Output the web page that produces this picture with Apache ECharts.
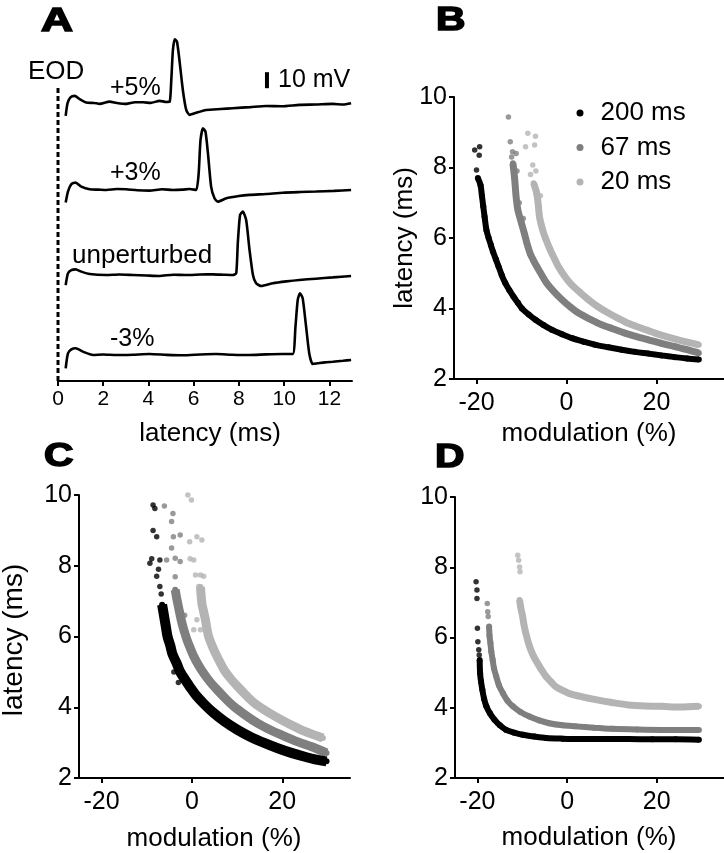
<!DOCTYPE html>
<html><head><meta charset="utf-8">
<script src="https://cdn.jsdelivr.net/npm/echarts@6/dist/echarts.min.js"></script>
<style>html,body{margin:0;padding:0;background:#fff}#c{width:724px;height:853px}</style>
</head><body><div id="c"></div><script>
// ---------- Panel A: recorded traces (time ms, voltage mV relative to baseline) ----------
const aTicks = [0, 2, 4, 6, 8, 10, 12];
const traceLabels = ['+5%', '+3%', 'unperturbed', '-3%'];
const trP5 = [[0.34,-7.9],[0.42,0],[0.55,3.7],[0.74,4.6],[0.96,2.5],[1.25,0.4],[1.6,0.2],[1.84,-0.4],[2.28,1.0],[2.6,0.2],[3.02,-0.4],[3.4,0.6],[3.76,0.6],[4.1,0.2],[4.49,1.5],[4.79,0.8],[4.94,1.0],[5.01,14.6],[5.08,33],[5.16,40],[5.26,38.5],[5.37,27],[5.52,8.3],[5.67,-4.2],[5.82,-7.3],[6.04,-6.3],[6.55,-4.2],[7.2,-3.6],[7.73,-3.1],[8.5,-2.4],[9.2,-1.7],[9.9,-1.9],[10.67,-1.0],[11.4,-0.8],[12.15,-0.4],[12.6,-0.8],[12.96,0]];
const trP3 = [[0.34,-7.9],[0.44,-1],[0.59,3.7],[0.78,4.6],[1.03,2.1],[1.4,0.4],[1.8,0.2],[2.14,0],[2.6,0.6],[3.02,0.4],[3.5,-0.2],[4.05,-0.4],[4.6,0.4],[5.08,0],[5.5,0.2],[5.82,0.6],[6.11,0],[6.22,10.4],[6.3,31],[6.41,38.5],[6.52,36.5],[6.63,23],[6.77,2.1],[6.92,-5.2],[7.07,-7.3],[7.44,-5.2],[8.0,-3.8],[8.47,-3.1],[9.2,-2.5],[9.94,-1.7],[10.7,-1.3],[11.41,-1.0],[12.2,-0.6],[12.96,0]];
const trUnp = [[0.34,-6.3],[0.44,1.0],[0.59,3.1],[0.78,3.5],[1.03,2.1],[1.4,0.6],[2.14,0],[2.7,0.3],[3.31,0],[3.9,-0.3],[4.49,-0.6],[5.1,0.2],[5.67,0],[6.3,0.3],[6.85,0.4],[7.3,0.2],[7.73,0],[7.88,1],[7.95,19.8],[8.05,37.5],[8.17,39.6],[8.32,34.4],[8.47,15.6],[8.62,0],[8.76,-5.2],[8.99,-6.9],[9.5,-5.2],[10.1,-4.0],[10.67,-3.1],[11.4,-2.3],[12.15,-1.5],[12.96,-0.6]];
const trM3 = [[0.34,-8.3],[0.44,1.0],[0.59,3.5],[0.78,4.2],[1.1,2.1],[1.55,0],[2.0,0.3],[2.58,0],[3.3,0.2],[4.05,0.6],[4.8,0.1],[5.52,-0.2],[6.3,0.3],[6.99,0.6],[7.7,0.2],[8.47,0],[9.2,0.4],[9.94,0.6],[10.38,0.6],[10.5,17.7],[10.6,34.4],[10.7,38.5],[10.82,35.4],[10.97,17.7],[11.11,1],[11.26,-5.6],[11.48,-5.2],[11.8,-4.6],[12.15,-4.2],[12.6,-3.6],[12.96,-3.1]];
const traceBaselines = [173.6, 119.4, 66.25, 16.25]; // vertical stacking of traces (mV)
const eodMarker = [[0, 0], [0, 185]];
const scaleBar = [[9.24, 183], [9.24, 193]]; // 10 mV

// ---------- Panels B-D: latency (ms) vs modulation (%) ----------
const modTicks = [-20, 0, 20];
const latTicks = [2, 4, 6, 8, 10];
const seriesNames = ['200 ms', '67 ms', '20 ms'];

// Panel B
const b200Band = [[-19.7,7.7],[-19.1,7.5],[-18.8,7.2],[-18.5,6.9],[-18.2,6.6],[-17.8,6.23],[-17.3,6.0],[-16.8,5.8],[-16.3,5.6],[-15.7,5.4],[-15.1,5.19],[-14.4,4.95],[-13.6,4.72],[-12.7,4.52],[-11.8,4.34],[-10.8,4.16],[-9.9,4.0],[-8.4,3.83],[-6.9,3.68],[-5.1,3.53],[-3.3,3.4],[-1.0,3.27],[1.2,3.16],[3.8,3.06],[6.4,2.97],[9.3,2.9],[12.3,2.83],[15.2,2.77],[18.2,2.72],[21.1,2.67],[24.1,2.62],[26.8,2.58],[29.4,2.55]];
const b200Out = [[-20.4,8.5],[-19.3,8.59],[-19.4,8.35],[-20.0,7.93]];
const b67Band = [[-11.9,8.12],[-11.5,7.65],[-11.2,7.17],[-10.8,6.79],[-10.0,6.42],[-9.3,6.1],[-8.8,5.85],[-8.1,5.57],[-7.4,5.38],[-6.6,5.19],[-5.5,4.95],[-4.4,4.72],[-2.8,4.48],[-1.0,4.25],[0.8,4.05],[2.7,3.87],[5.2,3.7],[7.8,3.54],[10.4,3.42],[13.0,3.3],[15.6,3.2],[18.2,3.11],[21.1,3.01],[24.1,2.92],[26.8,2.83],[29.4,2.74]];
const b67Out = [[-12.9,9.43],[-12.5,8.73],[-12.0,8.45],[-11.2,8.4],[-12.2,8.3],[-11.0,7.9],[-10.5,7.0],[-9.6,6.55]];
const b20Band = [[-7.3,7.55],[-6.7,7.31],[-6.3,6.98],[-6.0,6.6],[-5.3,6.23],[-4.7,6.0],[-3.6,5.66],[-2.7,5.42],[-1.8,5.19],[-0.6,4.95],[0.8,4.72],[2.8,4.48],[4.9,4.25],[7.0,4.05],[9.3,3.87],[11.5,3.72],[13.7,3.58],[16.7,3.44],[19.7,3.3],[22.2,3.2],[24.8,3.11],[27.1,3.04],[29.4,2.97]];
const b20Out = [[-8.6,8.97],[-6.9,8.89],[-9.1,8.59],[-7.1,8.64],[-7.5,8.07],[-8.0,7.8],[-6.8,7.9],[-5.8,7.2]];

// Panel C
const c200Band = [[-6.6,6.9],[-6.2,6.6],[-5.8,6.3],[-5.4,6.0],[-4.8,5.75],[-4.3,5.5],[-3.4,5.25],[-2.6,5.0],[-1.5,4.78],[-0.3,4.55],[1.1,4.31],[2.8,4.08],[4.8,3.84],[7.2,3.6],[10.1,3.36],[13.0,3.16],[16.0,2.99],[19.0,2.84],[22.0,2.71],[25.0,2.6],[27.5,2.52],[29.8,2.47]];
const c200Out = [[-8.6,9.72],[-8.2,9.62],[-8.6,9.0],[-7.8,8.82],[-8.9,8.2],[-9.3,8.07],[-7.1,8.16],[-7.4,7.9],[-7.1,7.41],[-7.8,7.7],[-6.8,7.2],[-3.0,4.7],[-4.0,5.0]];
const c67Band = [[-3.7,7.32],[-3.4,7.1],[-3.0,6.85],[-2.6,6.6],[-2.2,6.38],[-1.7,6.15],[-1.1,5.91],[-0.4,5.68],[0.4,5.44],[1.4,5.2],[2.6,4.96],[4.0,4.72],[5.6,4.49],[7.4,4.25],[9.3,4.02],[11.8,3.78],[14.5,3.55],[17.5,3.35],[20.5,3.18],[23.5,3.02],[26.4,2.89],[29.8,2.71]];
const c67Out = [[-6.1,9.69],[-4.2,9.48],[-4.5,9.25],[-4.1,8.82],[-2.6,8.87],[-5.6,8.16],[-3.7,8.21],[-2.6,8.12],[-3.7,7.69],[-4.5,8.5],[-1.6,6.6]];
const c20Band = [[1.9,7.4],[2.2,6.94],[2.6,6.7],[3.0,6.47],[3.3,6.23],[3.7,6.0],[4.4,5.76],[5.2,5.53],[6.1,5.3],[7.1,5.06],[8.5,4.82],[10.1,4.59],[11.9,4.35],[13.8,4.12],[16.6,3.88],[19.7,3.65],[22.0,3.5],[24.2,3.36],[26.6,3.24],[29.0,3.13]];
const c20Out = [[-0.9,10.0],[-0.1,9.86],[1.1,8.82],[2.2,8.73],[-0.5,8.68],[0.4,8.16],[1.9,7.74],[0.8,7.74],[1.5,7.41],[1.1,6.47],[1.9,6.19],[0.4,6.19],[-0.4,8.2],[2.6,7.7]];

// Panel D
const d200Band = [[-19.5,5.36],[-19.4,4.98],[-19.2,4.75],[-18.9,4.51],[-18.5,4.25],[-18.0,4.04],[-17.2,3.84],[-16.2,3.66],[-15.0,3.5],[-13.6,3.37],[-11.8,3.29],[-9.9,3.23],[-7.3,3.18],[-4.7,3.14],[-1.0,3.12],[2.7,3.11],[8.2,3.11],[13.7,3.11],[19.0,3.1],[24.2,3.1],[29.4,3.09]];
const d200Out = [[-20.3,7.59],[-20.1,7.35],[-20.1,7.11],[-20.0,6.26],[-19.9,5.88],[-19.7,5.65],[-19.6,5.5]];
const d67Band = [[-17.4,6.31],[-17.3,6.05],[-17.1,5.84],[-16.9,5.6],[-16.6,5.36],[-16.3,5.12],[-15.8,4.89],[-15.2,4.64],[-14.3,4.41],[-13.3,4.2],[-12.1,4.04],[-10.4,3.88],[-8.4,3.75],[-6.2,3.64],[-4.0,3.56],[-1.0,3.5],[1.9,3.47],[6.0,3.43],[10.1,3.4],[15.6,3.38],[21.1,3.37],[25.2,3.37],[29.4,3.37]];
const d67Out = [[-17.8,6.97],[-17.7,6.73],[-17.6,6.6]];
const d20Band = [[-10.6,7.07],[-10.3,6.83],[-9.9,6.59],[-9.6,6.35],[-9.2,6.12],[-8.7,5.88],[-8.1,5.65],[-7.4,5.45],[-6.6,5.27],[-5.7,5.08],[-4.7,4.89],[-3.6,4.74],[-2.5,4.6],[-1.1,4.5],[0.4,4.41],[3.4,4.31],[6.4,4.23],[10.0,4.15],[13.7,4.08],[17.4,4.05],[21.1,4.04],[25.2,4.02],[29.4,4.04]];
const d20Out = [[-11.0,8.34],[-10.8,8.2],[-10.6,8.01],[-10.5,7.87]];

// ---------- build ----------
const FONT = '"Liberation Sans", Arial, Helvetica, sans-serif';
const COLORS = ['#000000', '#7f7f7f', '#b4b4b4'];
const chart = echarts.init(document.getElementById('c'), null, {renderer: 'canvas'});

const grids = [
  {left: 58, top: 29, width: 294, height: 352},
  {left: 454, top: 97, width: 270, height: 282},
  {left: 79, top: 495, width: 271, height: 283},
  {left: 455, top: 497, width: 270, height: 281}
];

const axisLineStyle = {show: true, onZero: false, lineStyle: {color: '#000', width: 2}};
const tickStyle = {show: true, length: 5, lineStyle: {color: '#000', width: 2}};
const xAxes = [
  {gridIndex: 0, type: 'value', min: 0, max: 13,
   axisLine: axisLineStyle, axisTick: Object.assign({customValues: aTicks}, tickStyle),
   axisLabel: {color: '#000', fontSize: 21, fontFamily: FONT, margin: 8, customValues: aTicks},
   splitLine: {show: false}}
];
const yAxes = [
  {gridIndex: 0, type: 'value', min: 0, max: 220, show: false, splitLine: {show: false}}
];
for (let g = 1; g <= 3; g++) {
  xAxes.push({gridIndex: g, type: 'value', min: -25, max: 35,
    axisLine: axisLineStyle,
    axisTick: Object.assign({customValues: modTicks}, tickStyle),
    axisLabel: {color: '#000', fontSize: 25, fontFamily: FONT, margin: 12, customValues: modTicks},
    splitLine: {show: false}});
  yAxes.push({gridIndex: g, type: 'value', min: 2, max: 10, interval: 2,
    axisLine: axisLineStyle,
    axisTick: Object.assign({customValues: latTicks}, tickStyle),
    axisLabel: {color: '#000', fontSize: 25, fontFamily: FONT, margin: 7, customValues: latTicks},
    splitLine: {show: false}});
}

const series = [];
// Panel A traces
[trP5, trP3, trUnp, trM3].forEach((tr, i) => {
  series.push({type: 'line', name: traceLabels[i], xAxisIndex: 0, yAxisIndex: 0,
    data: tr.map(p => [p[0], p[1] + traceBaselines[i]]),
    symbol: 'none', smooth: 0.2, lineStyle: {color: '#000', width: 2.6}, silent: true});
});
series.push({type: 'line', name: 'EOD', xAxisIndex: 0, yAxisIndex: 0, data: eodMarker,
  symbol: 'none', lineStyle: {color: '#000', width: 3, type: [5, 3]}, silent: true});
series.push({type: 'line', name: 'scale', xAxisIndex: 0, yAxisIndex: 0, data: scaleBar,
  symbol: 'none', lineStyle: {color: '#000', width: 4}, silent: true});

// Panels B-D
const panels = [
  {g: 1, bands: [b20Band, b67Band, b200Band], outs: [b20Out, b67Out, b200Out], widths: [7, 7, 6]},
  {g: 2, bands: [c20Band, c67Band, c200Band], outs: [c20Out, c67Out, c200Out], widths: [9, 9, 10]},
  {g: 3, bands: [d20Band, d67Band, d200Band], outs: [d20Out, d67Out, d200Out], widths: [7, 6, 6]}
];
panels.forEach(p => {
  [2, 1, 0].forEach((ci, k) => {
    const col = COLORS[ci];
    series.push({type: 'line', name: seriesNames[ci], xAxisIndex: p.g, yAxisIndex: p.g,
      data: p.bands[k], smooth: 0.3, symbol: 'circle', symbolSize: 6, showAllSymbol: true,
      itemStyle: {color: col}, lineStyle: {color: col, width: p.widths[k]}, silent: true});
    series.push({type: 'scatter', name: seriesNames[ci], xAxisIndex: p.g, yAxisIndex: p.g,
      data: p.outs[k], symbol: 'circle', symbolSize: 5.5, itemStyle: {color: col}, silent: true});
  });
});

function txt(text, x, y, size, extra) {
  extra = extra || {};
  const st = {text: text, fill: '#000', font: (extra.weight || 'normal') + ' ' + size + 'px ' + FONT,
    textAlign: extra.align || 'left', align: extra.align || 'left',
    textVerticalAlign: 'middle', verticalAlign: 'middle'};
  if (extra.stroke) { st.stroke = '#000'; st.lineWidth = extra.stroke; }
  return Object.assign({type: 'text', x: x, y: y, silent: true, style: st}, extra.el || {});
}
const graphics = [
  txt('A', 41, 22, 34, {weight: 'bold', stroke: 1.6, el: {scaleX: 1.3}}),
  txt('B', 436, 21, 34, {weight: 'bold', stroke: 1.6, el: {scaleX: 1.2}}),
  txt('C', 44, 457, 34, {weight: 'bold', stroke: 1.6, el: {scaleX: 1.2}}),
  txt('D', 435, 458, 34, {weight: 'bold', stroke: 1.6, el: {scaleX: 1.2}}),
  txt('EOD', 28, 72, 26),
  txt('+5%', 110, 88, 25),
  txt('+3%', 110, 173, 25),
  txt('unperturbed', 72, 256, 26),
  txt('-3%', 110, 339, 25),
  txt('10 mV', 278, 80, 25),
  txt('latency (ms)', 210, 434, 26, {align: 'center'}),
  txt('modulation (%)', 589, 434, 26, {align: 'center'}),
  txt('latency (ms)', 405, 238, 26, {align: 'center', el: {rotation: Math.PI / 2}}),
  txt('latency (ms)', 14, 640, 28, {align: 'center', el: {rotation: Math.PI / 2}}),
  txt('modulation (%)', 214, 839, 26, {align: 'center'}),
  txt('modulation (%)', 589, 838, 26, {align: 'center'})
];

chart.setOption({
  animation: false,
  backgroundColor: '#fff',
  grid: grids,
  xAxis: xAxes,
  yAxis: yAxes,
  legend: {
    orient: 'vertical', left: 571.5, top: 95, itemWidth: 31, itemHeight: 7, itemGap: 8.5,
    selectedMode: false,
    textStyle: {fontSize: 26, fontFamily: FONT, color: '#000', lineHeight: 26},
    data: seriesNames.map(n => ({name: n, icon: 'circle'}))
  },
  series: series,
  graphic: graphics
});
</script></body></html>
